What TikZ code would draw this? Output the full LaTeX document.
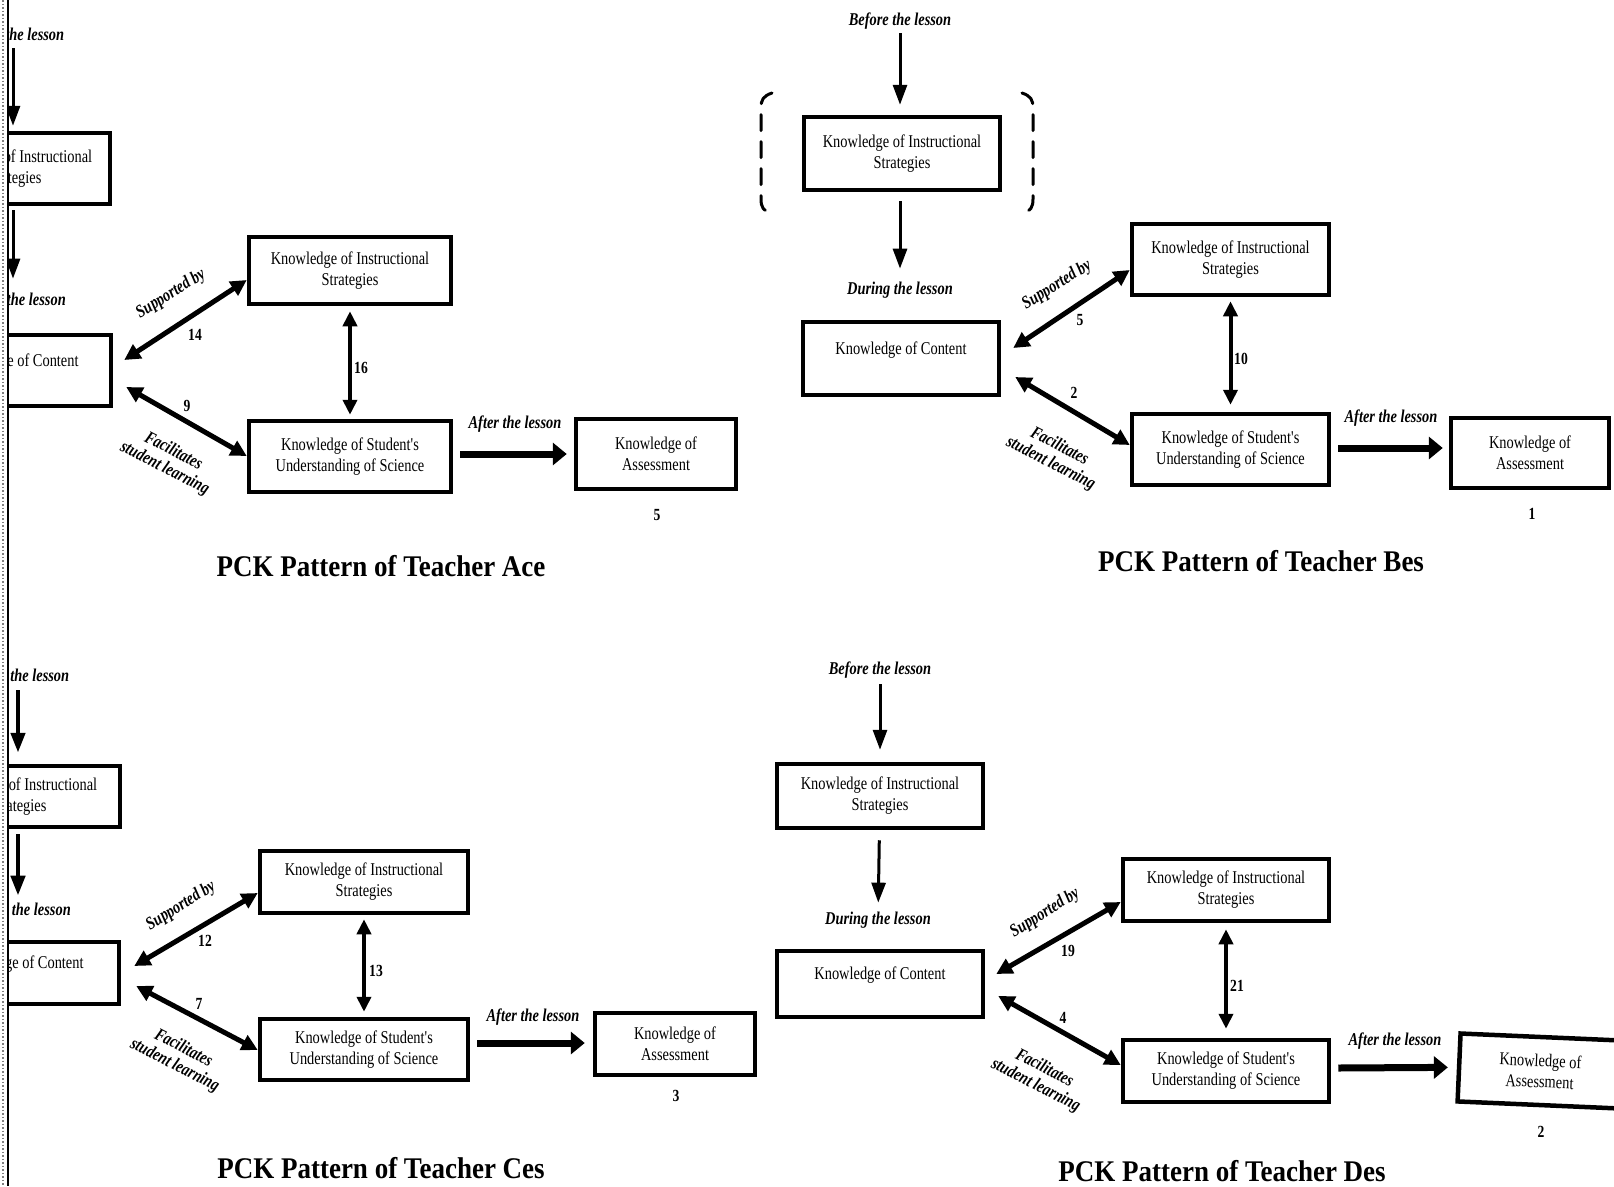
\documentclass[tikz,border=0pt]{standalone}
\usepackage{fontspec}
\setmainfont{Liberation Serif}
\newfontfamily\cnd[FakeStretch=0.8]{Liberation Serif}
\newfontfamily\ttl[FakeStretch=0.9]{Liberation Serif}
\usetikzlibrary{arrows.meta,calc}

\begin{document}
\begin{tikzpicture}[x=1pt,y=-1pt,
  box/.style={draw, line width=4.5pt, align=center, inner sep=0pt,
    font=\cnd\fontsize{18}{21}\selectfont},
  stage/.style={inner sep=0pt, font=\cnd\bfseries\itshape\fontsize{18}{20}\selectfont},
  rel/.style={inner sep=0pt, align=center, font=\cnd\bfseries\itshape\fontsize{18}{19}\selectfont},
  num/.style={inner sep=0pt, font=\cnd\bfseries\fontsize{17}{19}\selectfont},
  ptitle/.style={inner sep=0pt, font=\ttl\bfseries\fontsize{30}{32}\selectfont},
  flow/.style={line width=3pt, -{Triangle[length=20pt,width=14pt]}},
  link/.style={line width=5pt, {Triangle[length=16pt,width=16pt]}-{Triangle[length=16pt,width=16pt]}},
  mutual/.style={line width=4pt, {Triangle[length=15pt,width=14pt]}-{Triangle[length=15pt,width=14pt]}},
  after/.style={line width=7pt, -{Triangle[length=14pt,width=22pt]}},
  bracket/.style={line width=3pt, dash pattern=on 16pt off 11pt, line cap=round},
]
\useasboundingbox (0,0) rectangle (1614,1186);
\fill[white] (0,0) rectangle (1614,1186);
\clip (0,0) rectangle (1614,1186);

% page edge
\draw[gray, dotted, line width=1.5pt] (3,0) -- (3,1186);
\draw[line width=1.5pt] (8,0) -- (8,1186);

% ---------- Teacher Ace ----------
\begin{scope}
\clip (8,0) rectangle (780,1186);
\node[stage] (aBef) at (13,36) {Before the lesson};
\node[box, minimum width=194pt, minimum height=71pt] (aI1) at (13,168.5) {Knowledge of Instructional\\Strategies};
\node[stage] (aDur) at (13,301) {During the lesson};
\node[box, minimum width=196pt, minimum height=71pt] (aC) at (13,370.5) {Knowledge of Content\\\mbox{}};
\node[box, minimum width=202pt, minimum height=67pt] (aI2) at (350,270.5) {Knowledge of Instructional\\Strategies};
\node[box, minimum width=202pt, minimum height=71pt] (aS) at (350,456.5) {Knowledge of Student's\\Understanding of Science};
\node[box, minimum width=160pt, minimum height=70pt] (aA) at (656,454) {Knowledge of\\Assessment};

\draw[flow, shorten <=4pt, shorten >=5pt] (aBef) -- (aI1);
\draw[flow, shorten <=4pt, shorten >=14pt] (aI1) -- (aDur);
\draw[link] ($(aC.east)+(11,-10.5)$) -- ($(aI2.west)+(0,9.5)$);
\draw[link] ($(aC.east)+(13,16.5)$) -- ($(aS.west)+(0,-0.5)$);
\draw[mutual, shorten <=5pt, shorten >=4pt] (aI2) -- (aS);
\draw[after] ($(aS.east)+(7,-2.5)$) -- ($(aA.west)+(-7,0)$);

\node[rel, rotate=32] (aSup) at (171,294) {Supported by};
\node[rel, rotate=-27] (aFac) at (169,460) {Facilitates\\student learning};
\node[num] (aN1) at (195,335) {14};
\node[num] (aN2) at (361,368) {16};
\node[num] (aN3) at (187,406) {9};
\node[stage] (aAft) at (515,424) {After the lesson};
\node[num] (aN4) at (657,515) {5};
\node[ptitle] (aT) at (381,566) {PCK Pattern of Teacher Ace};
\end{scope}

% ---------- Teacher Bes ----------
\node[stage] (bBef) at (900,21) {Before the lesson};
\node[box, minimum width=196pt, minimum height=73pt] (bI1) at (902,153.5) {Knowledge of Instructional\\Strategies};
\node[stage] (bDur) at (900,290) {During the lesson};
\node[box, minimum width=196pt, minimum height=73pt] (bC) at (901,358.5) {Knowledge of Content\\\mbox{}};
\node[box, minimum width=197pt, minimum height=71pt] (bI2) at (1230.5,259.5) {Knowledge of Instructional\\Strategies};
\node[box, minimum width=197pt, minimum height=71pt] (bS) at (1230.5,449.5) {Knowledge of Student's\\Understanding of Science};
\node[box, minimum width=158pt, minimum height=70pt] (bA) at (1530,453) {Knowledge of\\Assessment};

\draw[bracket] (772,93) .. controls (763,96) and (761,100) .. (761,108) -- (761,199) .. controls (761,207) and (763,211) .. (772,214);
\draw[bracket] (1022,93) .. controls (1031,96) and (1033,100) .. (1033,108) -- (1033,199) .. controls (1033,207) and (1031,211) .. (1022,214);

\draw[flow, shorten <=4pt, shorten >=10pt] (bBef) -- (bBef |- bI1.north);
\draw[flow, shorten <=9pt, shorten >=13pt] (bBef |- bI1.south) -- (bDur);
\draw[link] ($(bC.east)+(12,-10.5)$) -- ($(bI2.west)+(0,10.5)$);
\draw[link] ($(bC.east)+(14,18.5)$) -- ($(bS.west)+(0,-4.5)$);
\draw[mutual, shorten <=4pt, shorten >=7pt] (bI2) -- (bS);
\draw[after] ($(bS.east)+(7,-1.5)$) -- ($(bA.west)+(-6,-5)$);

\node[rel, rotate=32] (bSup) at (1057,285) {Supported by};
\node[rel, rotate=-27] (bFac) at (1055,455) {Facilitates\\student learning};
\node[num] (bN1) at (1080,320) {5};
\node[num] (bN2) at (1241,359) {10};
\node[num] (bN3) at (1074,393) {2};
\node[stage] (bAft) at (1391,418) {After the lesson};
\node[num] (bN4) at (1532,514) {1};
\node[ptitle] (bT) at (1261,561) {PCK Pattern of Teacher Bes};

% ---------- Teacher Ces ----------
\begin{scope}
\clip (8,600) rectangle (780,1186);
\node[stage] (cBef) at (18,677) {Before the lesson};
\node[box, minimum width=204pt, minimum height=61pt] (cI1) at (18,796.5) {Knowledge of Instructional\\Strategies};
\node[stage] (cDur) at (18,911) {During the lesson};
\node[box, minimum width=202pt, minimum height=62pt] (cC) at (18,973) {Knowledge of Content\\\mbox{}};
\node[box, minimum width=208pt, minimum height=62pt] (cI2) at (364,882) {Knowledge of Instructional\\Strategies};
\node[box, minimum width=208pt, minimum height=61pt] (cS) at (364,1049.5) {Knowledge of Student's\\Understanding of Science};
\node[box, minimum width=160pt, minimum height=62pt] (cA) at (675,1044) {Knowledge of\\Assessment};

\draw[flow, line width=4.5pt, shorten <=5pt, shorten >=11pt] (cBef) -- (cI1);
\draw[flow, line width=4.5pt, shorten <=5pt, shorten >=7pt] (cI1) -- (cDur);
\draw[link] ($(cC.east)+(13,-7)$) -- ($(cI2.west)+(0,11)$);
\draw[link] ($(cC.east)+(15,13)$) -- ($(cS.west)+(0,0.5)$);
\draw[mutual, shorten <=4pt, shorten >=5pt] (cI2) -- (cS);
\draw[after] ($(cS.east)+(7,-6.5)$) -- ($(cA.west)+(-8,-1)$);

\node[rel, rotate=32] (cSup) at (181,906) {Supported by};
\node[rel, rotate=-27] (cFac) at (179,1057) {Facilitates\\student learning};
\node[num] (cN1) at (205,941) {12};
\node[num] (cN2) at (376,971) {13};
\node[num] (cN3) at (199,1004) {7};
\node[stage] (cAft) at (533,1017) {After the lesson};
\node[num] (cN4) at (676,1096) {3};
\node[ptitle] (cT) at (381,1168) {PCK Pattern of Teacher Ces};
\end{scope}

% ---------- Teacher Des ----------
\node[stage] (dBef) at (880,670) {Before the lesson};
\node[box, minimum width=206pt, minimum height=64pt] (dI1) at (880,796) {Knowledge of Instructional\\Strategies};
\node[stage] (dDur) at (878,920) {During the lesson};
\node[box, minimum width=206pt, minimum height=66pt] (dC) at (880,984) {Knowledge of Content\\\mbox{}};
\node[box, minimum width=206pt, minimum height=62pt] (dI2) at (1226,890) {Knowledge of Instructional\\Strategies};
\node[box, minimum width=206pt, minimum height=62pt] (dS) at (1226,1071) {Knowledge of Student's\\Understanding of Science};
\node[box, minimum width=162pt, minimum height=68pt, rotate=-2.5] (dA) at (1540,1071) {Knowledge of\\Assessment};

\draw[flow, shorten <=6pt, shorten >=12pt] (dBef) -- (dI1);
\draw[flow, shorten <=10pt, shorten >=9pt] (dI1) -- (dDur);
\draw[link] ($(dC.east)+(11,-10)$) -- ($(dI2.west)+(0,12)$);
\draw[link] ($(dC.east)+(13,12)$) -- ($(dS.west)+(0,-6)$);
\draw[mutual, shorten <=6pt, shorten >=9pt] (dI2) -- (dS);
\draw[after] ($(dS.east)+(7,-3)$) -- ($(dA.west)+(-9,0)$);

\node[rel, rotate=32] (dSup) at (1045,913) {Supported by};
\node[rel, rotate=-27] (dFac) at (1040,1077) {Facilitates\\student learning};
\node[num] (dN1) at (1068,951) {19};
\node[num] (dN2) at (1237,986) {21};
\node[num] (dN3) at (1063,1018) {4};
\node[stage] (dAft) at (1395,1041) {After the lesson};
\node[num] (dN4) at (1541,1132) {2};
\node[ptitle] (dT) at (1222,1171) {PCK Pattern of Teacher Des};
\end{tikzpicture}
\end{document}
